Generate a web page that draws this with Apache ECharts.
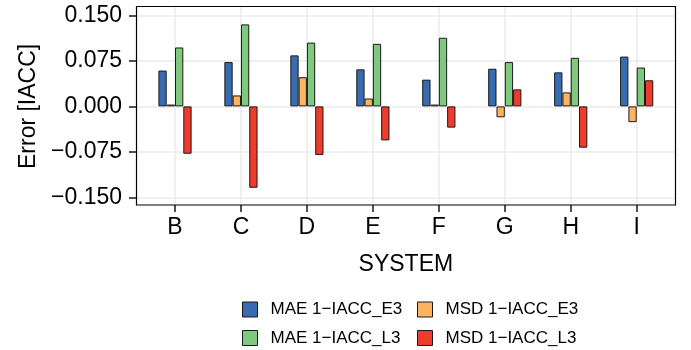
<!DOCTYPE html>
<html>
<head>
<meta charset="utf-8">
<script src="https://cdn.jsdelivr.net/npm/echarts@6/dist/echarts.min.js"></script>
<style>
  html, body { margin: 0; padding: 0; background: #fff; }
  #plot { width: 691px; height: 350px; }
</style>
</head>
<body>
<div id="plot"></div>
<script>
// data
var systems = ['B', 'C', 'D', 'E', 'F', 'G', 'H', 'I'];
var maeE3 = [0.059, 0.073, 0.084, 0.061, 0.044, 0.062, 0.056, 0.082];
var msdE3 = [0.003, 0.018, 0.048, 0.013, 0.003, -0.018, 0.023, -0.026];
var maeL3 = [0.097, 0.135, 0.105, 0.103, 0.113, 0.073, 0.080, 0.064];
var msdL3 = [-0.078, -0.134, -0.080, -0.056, -0.035, 0.028, -0.068, 0.043];
var yTicks = [-0.15, 0.15, 0.075];   // min, max, step

var names = ['MAE 1\u2212IACC_E3', 'MSD 1\u2212IACC_E3', 'MAE 1\u2212IACC_L3', 'MSD 1\u2212IACC_L3'];
var colors = ['#386CB0', '#FDB462', '#7FC97F', '#EF3B2C'];
var values = [maeE3, msdE3, maeL3, msdL3];

var font = 'Liberation Sans';
var gridColor = '#EBEBEB';

var myChart = echarts.init(document.getElementById('plot'));

var series = values.map(function (vals, i) {
  return {
    name: names[i],
    type: 'bar',
    xAxisIndex: 0,
    yAxisIndex: 0,
    data: vals,
    barWidth: 8.3,
    barGap: '0%',
    clip: false,
    itemStyle: { color: colors[i], borderColor: '#1a1a1a', borderWidth: 1 }
  };
});

// one legend per item so the 2x2 layout sits exactly
var legendPos = [[242, 301], [417, 301], [242, 329.5], [417, 329.5]];
var legends = names.map(function (n, i) {
  return {
    data: [n],
    left: legendPos[i][0],
    top: legendPos[i][1],
    padding: 0,
    icon: 'rect',
    itemWidth: 15,
    itemHeight: 15,
    itemStyle: { borderColor: '#1a1a1a', borderWidth: 1 },
    textStyle: { fontFamily: font, fontSize: 17, color: '#000', lineHeight: 15, padding: [0, 0, 0, 8] }
  };
});

var option = {
  animation: false,
  textStyle: { fontFamily: font },
  legend: legends,
  grid: [
    // bars + vertical grid lines + x axis
    { left: 175, right: 54.3, top: 6, bottom: 145 },
    // horizontal grid lines + y axis
    { left: 136, right: 16, top: 15.3, bottom: 152.5 }
  ],
  xAxis: [
    {
      gridIndex: 0,
      type: 'category',
      data: systems,
      boundaryGap: false,
      axisLine: { show: false, onZero: false },
      axisTick: { show: true, length: 7, lineStyle: { color: '#1a1a1a', width: 1.5 } },
      axisLabel: { fontSize: 23, color: '#000', margin: 11, fontFamily: font },
      splitLine: { show: true, lineStyle: { color: gridColor, width: 1.5 } },
      name: 'SYSTEM',
      nameLocation: 'middle',
      nameGap: 48,
      nameTextStyle: { fontSize: 23, color: '#000', fontFamily: font }
    },
    { gridIndex: 1, type: 'value', show: false }
  ],
  yAxis: [
    { gridIndex: 0, type: 'value', min: -0.1624, max: 0.1653, show: false },
    {
      gridIndex: 1,
      type: 'value',
      min: yTicks[0],
      max: yTicks[1],
      interval: yTicks[2],
      axisLine: { show: false, onZero: false },
      axisTick: { show: true, length: 7, lineStyle: { color: '#1a1a1a', width: 1.5 } },
      axisLabel: {
        fontSize: 23, color: '#000', margin: 14, fontFamily: font,
        formatter: function (v) { return v.toFixed(3).replace('-', '\u2212'); }
      },
      splitLine: { show: true, lineStyle: { color: gridColor, width: 1.5 } },
      name: 'Error [IACC]',
      nameLocation: 'middle',
      nameGap: 96,
      nameTextStyle: { fontSize: 23, color: '#000', fontFamily: font }
    }
  ],
  graphic: [{
    type: 'rect',
    z: 100,
    shape: { x: 136.5, y: 6.5, width: 539, height: 198.5 },
    style: { fill: 'none', stroke: '#000', lineWidth: 1.2 }
  }],
  series: series
};

myChart.setOption(option);
</script>
</body>
</html>
